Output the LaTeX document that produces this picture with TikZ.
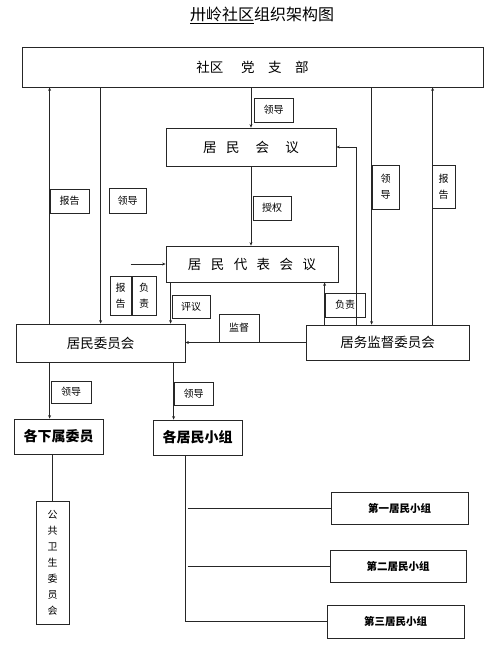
\documentclass[tikz,border=0pt]{standalone}
\usepackage{fontspec}
\setmainfont{Noto Sans CJK SC}
\usepackage{tikz}
\usetikzlibrary{arrows.meta,positioning}

\begin{document}
\begin{tikzpicture}[
  x=1pt,y=-1pt,
  box/.style={draw=black!85,line width=0.8pt,inner sep=0pt,align=center,
    font=\fontsize{13.5}{16}\selectfont},
  tag/.style={draw=black!85,line width=0.8pt,inner sep=0pt,align=center,
    font=\fontsize{10}{16}\selectfont},
  group/.style={box,font=\fontsize{10.5}{12}\selectfont\bfseries},
  arrow/.style={-{Stealth[length=3.5pt,width=3pt]},line width=0.7pt,black!85},
  line/.style={line width=0.7pt,black!85}
]
\useasboundingbox (0,0) rectangle (500,651);
\node[font=\fontsize{16}{18}\selectfont] (title) at (262,15) {\underline{卅岭社区}组织架构图};

% main boxes
\node[box,minimum width=461pt,minimum height=40pt] (party) at (252.5,67) {社区\hspace{0.3em}\hspace{1em}党\hspace{1em}支\hspace{1em}部};
\node[box,minimum width=170pt,minimum height=38pt] (meeting) at (251,147) {居\hspace{0.7em}民\hspace{1.2em}会\hspace{1.2em}议};
\node[box,minimum width=172pt,minimum height=36pt] (deputy) at (252,264) {居\hspace{0.7em}民\hspace{0.7em}代\hspace{0.7em}表\hspace{0.7em}会\hspace{0.7em}议};
\node[box,minimum width=169pt,minimum height=38pt] (council) at (100.5,343) {居民委员会};
\node[box,minimum width=163pt,minimum height=35pt] (monitor) at (387.5,342.5) {居务监督委员会};
\node[box,font=\fontsize{14}{16}\selectfont\bfseries,minimum width=89pt,minimum height=35pt] (members) at (58.5,436.5) {各下属委员};
\node[box,font=\fontsize{14}{16}\selectfont\bfseries,minimum width=89pt,minimum height=35pt] (groups) at (197.5,437.5) {各居民小组};
\node[tag,minimum width=33pt,minimum height=123pt] (health) at (52.5,562.5) {公\\共\\卫\\生\\委\\员\\会};
\node[group,minimum width=137pt,minimum height=32pt] (first) at (399.5,508) {第一居民小组};
\node[group,minimum width=136pt,minimum height=32pt] (second) at (398,566) {第二居民小组};
\node[group,minimum width=137pt,minimum height=33pt] (third) at (395.5,621.5) {第三居民小组};

% labels
\node[tag,minimum width=39pt,minimum height=24pt] (lead1) at (273.5,110) {领导};
\node[tag,minimum width=38pt,minimum height=24pt] (grant) at (272,208) {授权};
\node[tag,minimum width=39pt,minimum height=24pt] (report1) at (69.5,201) {报告};
\node[tag,minimum width=37pt,minimum height=25pt] (lead2) at (127.5,200.5) {领导};
\node[tag,minimum width=27pt,minimum height=44pt] (lead3) at (385.5,187) {领\\导};
\node[tag,minimum width=23pt,minimum height=43pt] (report2) at (443.5,186.5) {报\\告};
\node[tag,minimum width=21pt,minimum height=39pt] (report3) at (120.5,295.5) {报\\告};
\node[tag,minimum width=24pt,minimum height=39pt] (duty1) at (144,295.5) {负\\责};
\node[tag,minimum width=38pt,minimum height=23pt] (review) at (191,306.5) {评议};
\node[tag,minimum width=40pt,minimum height=28pt] (watch) at (239,328) {监督};
\node[tag,minimum width=40pt,minimum height=24pt] (duty2) at (345,305) {负责};
\node[tag,minimum width=40pt,minimum height=22pt] (lead4) at (71,392) {领导};
\node[tag,minimum width=39pt,minimum height=23pt] (lead5) at (193.5,393.5) {领导};

% connectors
\coordinate (cl1) at ([xshift=34pt]council.north west);
\coordinate (cl2) at ([xshift=85pt]council.north west);
\coordinate (cr1) at ([xshift=19pt]monitor.north west);
\coordinate (cr2) at ([xshift=51pt]monitor.north west);
\coordinate (cr3) at ([xshift=66pt]monitor.north west);
\coordinate (cr4) at ([xshift=127pt]monitor.north west);
\coordinate (spine) at ([xshift=33pt]groups.south west);
\coordinate (branch) at ([xshift=35pt]groups.south west);
\draw[arrow] (cl1) -- (cl1 |- party.south);
\draw[arrow] (cl2 |- party.south) -- (cl2);
\draw[arrow] (party.south -| meeting.north) -- (meeting.north);
\draw[arrow] (meeting.south) -- (meeting.south |- deputy.north);
\draw[arrow] ([xshift=-35pt]deputy.west) -- (deputy.west);
\draw[arrow] ([xshift=5pt]deputy.south west) -- ([xshift=5pt]deputy.south west |- council.north);
\draw[arrow] (monitor.west) -- (monitor.west -| council.east);
\draw[arrow] (cr1) -- (cr1 |- deputy.south);
\draw[arrow] (cr2) |- (meeting.east);
\draw[arrow] (cr3 |- party.south) -- (cr3);
\draw[arrow] (cr4) -- (cr4 |- party.south);
\draw[arrow] ([xshift=34pt]council.south west) -- ([xshift=34pt]council.south west |- members.north);
\draw[arrow] ([xshift=158pt]council.south west) -- ([xshift=158pt]council.south west |- groups.north);
\draw[line] (health.north |- members.south) -- (health.north);
\draw[line] (spine) |- (third.west);
\draw[line] (branch |- first.west) -- (first.west);
\draw[line] (branch |- second.west) -- (second.west);
\end{tikzpicture}
\end{document}
